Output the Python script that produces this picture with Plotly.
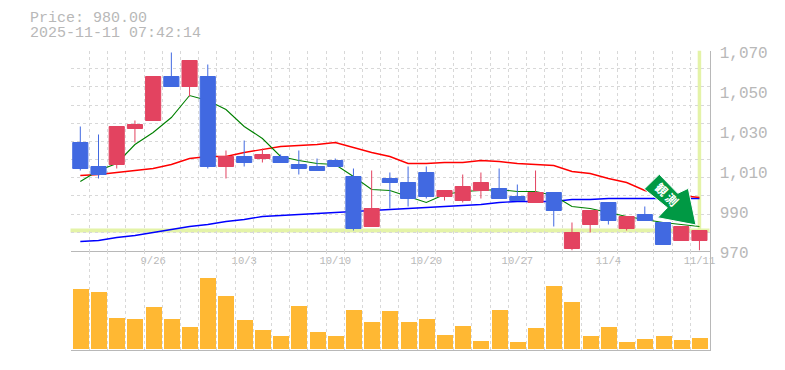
import plotly.graph_objects as go

W, H = 785, 370
opens = [1024,1012,1013,1031,1035,1057,1052,1057,1012,1017,1016,1017,1013,1012,1015,1007,982,1006,1004,1009,997,995,1000,1001,997,994,999,971,983,994,981,988,984,975,975]
highs = [1032,1028,1032,1035,1057,1069,1065,1063,1020,1025,1021,1018,1020,1016,1016,1011,1010,1009,1012,1012,1000,1008,1009,1011,1003,1010,999,984,990,994,987,992,984,982,980]
lows = [1010,1006,1011,1024,1035,1052,1047,1011,1006,1012,1014,1014,1008,1010,1012,980,982,991,992,996,995,994,996,996,995,994,982,970,979,983,980,985,973,975,970]
closes = [1011,1008,1032,1033,1057,1052,1065,1012,1017,1014,1018,1014,1011,1010,1012,981,991,1004,996,997,1000,1002,1004,996,995,999,990,979,990,985,987,985,973,982,980]
ma_short = [1004.5,1010,1013.5,1023,1029,1036.5,1047.5,1045,1040.5,1032,1026,1017,1015,1013.5,1013,1007,1000.5,1000,997,994,998,999.5,1000,1000.5,999.5,999.5,997.5,992,991,989,987,985.5,984,983,982]
ma_mid = [1007.5,1008,1009,1010,1011,1013,1016,1017,1017,1019,1020.5,1022,1022.5,1023,1024,1021.5,1019,1017,1013.5,1013.5,1014,1014,1015,1014.5,1013.5,1013,1012.5,1009.5,1008.5,1006,1004,1000,998,997.5,996.5]
ma_long = [974.5,975,976.5,977.5,979,980.5,982,983,984.5,985.5,987,987.5,988,988.5,989,989.5,990,990.5,991,991.5,992,992.5,993,994,994.5,994.5,994.5,995.5,995.5,996,996,996,996,996,996]
volumes = [60000,57000,31000,30000,42000,30000,22000,71000,53000,29000,19000,13000,43000,17000,13000,39000,27000,38000,27000,30000,14000,23000,8000,39000,7000,21000,63000,47000,13000,22000,7000,10000,13000,9000,11000]
x_idx = list(range(len(closes)))
date_ticks = [4, 9, 14, 19, 24, 29, 34]
date_labels = ["9/26", "10/3", "10/10", "10/20", "10/27", "11/4", "11/11"]
price_ticks = [970, 990, 1010, 1030, 1050, 1070]
price_labels = ["970", "990", "1,010", "1,030", "1,050", "1,070"]
last_price = 980
caption = ["Price: 980.00", "2025-11-11 07:42:14"]
arrow_text = "<b>観 測</b>\u3000"

GRAY = "#b8b8b8"
GRID = "#d8d8d8"
YELLOW = "#e4f3a8"
MONO = "Liberation Mono"
BLUE = "#4169e1"
RED = "#e34360"

def px(x): return x / W
def py(y): return 1 - y / H

LEFT, RIGHT = 70.5, 709.5
STEP = 18.21
xr = [(LEFT - 80.3) / STEP, (RIGHT - 80.3) / STEP]

fig = go.Figure()
for vals, col, w in [(ma_long, "#0000ff", 1.4), (ma_mid, "#ff0000", 1.4), (ma_short, "#008000", 1.1)]:
    fig.add_trace(go.Scatter(x=x_idx, y=vals, mode="lines", line=dict(color=col, width=w),
                             xaxis="x", yaxis="y", hoverinfo="skip"))
fig.add_trace(go.Candlestick(
    x=x_idx, open=opens, high=highs, low=lows, close=closes, xaxis="x", yaxis="y3",
    increasing=dict(line=dict(color=RED, width=1), fillcolor=RED),
    decreasing=dict(line=dict(color=BLUE, width=1), fillcolor=BLUE),
    whiskerwidth=0))
fig.add_trace(go.Bar(x=x_idx, y=volumes, marker=dict(color="#ffb833", line=dict(width=0)),
                     width=0.88, xaxis="x2", yaxis="y2"))

# hand-drawn arrow, in page pixels
arrow_pts = [(644.3,189),(659.3,174.3),(677.7,193.3),(688.3,188.3),(696,225),(657.7,217.7),(667.3,207.7)]
path = "M " + " L ".join(f"{px(a):.5f} {py(b):.5f}" for a, b in arrow_pts) + " Z"

grid_common = dict(showgrid=True, gridcolor=GRID, griddash="3px,3px", gridwidth=1)
xbase = dict(range=xr, showgrid=False, zeroline=False, automargin=False,
             minor=dict(tick0=-0.5, dtick=1, ticks="", **grid_common))

fig.update_layout(
    template=None,
    width=W, height=H, autosize=False, showlegend=False, bargap=0, boxgap=0.17, boxgroupgap=0,
    margin=dict(l=0, r=0, t=0, b=0), paper_bgcolor="white", plot_bgcolor="white",
    font=dict(family=MONO, color=GRAY),
    xaxis=dict(domain=[px(LEFT), px(RIGHT)], anchor="y", tickmode="array", tickvals=date_ticks,
               ticktext=date_labels, ticks="", tickangle=0, showline=True, linecolor=GRAY, linewidth=1,
               tickfont=dict(family=MONO, size=10.5, color=GRAY), rangeslider=dict(visible=False), **xbase),
    xaxis2=dict(domain=[px(LEFT), px(RIGHT)], anchor="y2", showticklabels=False, ticks="",
                showline=True, linecolor=GRAY, linewidth=1, **xbase),
    yaxis=dict(domain=[py(250.5), py(50.5)], anchor="x", side="right", range=[970, 1070], tickmode="array",
               tickvals=price_ticks, ticktext=price_labels, ticks="outside", ticklen=6, tickcolor="rgba(0,0,0,0)",
               ticklabelshift=2,
               tickfont=dict(family=MONO, size=16, color=GRAY), showgrid=False, zeroline=False, automargin=False,
               showline=True, linecolor=GRAY, linewidth=1,
               minor=dict(tick0=970, dtick=100 / 11, ticks="", **grid_common)),
    yaxis3=dict(overlaying="y", anchor="x", side="right", range=[970, 1070], visible=False, automargin=False),
    yaxis2=dict(domain=[py(350), py(250.5)], anchor="x2", side="right", range=[-2000, 97500],
                showticklabels=False, ticks="", showgrid=False, zeroline=False, automargin=False,
                showline=True, linecolor=GRAY, linewidth=1),
    shapes=[
        dict(type="line", xref="paper", x0=px(LEFT), x1=px(RIGHT), yref="y", y0=last_price, y1=last_price,
             line=dict(color=YELLOW, width=4), layer="below"),
        dict(type="line", xref="x", x0=x_idx[-1], x1=x_idx[-1], yref="y", y0=last_price, y1=1070,
             line=dict(color=YELLOW, width=3.5), layer="below"),
        dict(type="path", xref="paper", yref="paper", path=path, fillcolor="#009944",
             line=dict(color="white", width=1), layer="above",
             label=dict(text=arrow_text, textangle=45, textposition="middle center", padding=0,
                        font=dict(family="Noto Sans CJK JP", size=12, color="white"))),
    ],
    annotations=[
        dict(xref="paper", yref="paper", x=px(28), y=py(18), text=caption[0], showarrow=False, xanchor="left",
             yanchor="middle", height=14, font=dict(family=MONO, size=15, color=GRAY)),
        dict(xref="paper", yref="paper", x=px(28), y=py(33), text=caption[1], showarrow=False, xanchor="left",
             yanchor="middle", height=14, font=dict(family=MONO, size=15, color=GRAY)),
    ],
)
fig.write_html("out.html", post_script="document.body.style.margin='0';", config={"displayModeBar": False})
